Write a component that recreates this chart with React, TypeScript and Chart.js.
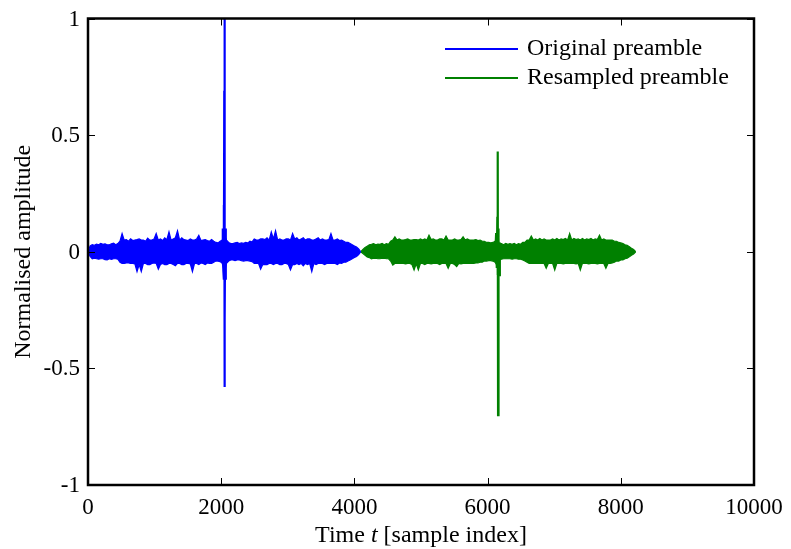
import React, { useEffect, useRef } from "react";
import { Chart, registerables } from "chart.js";

Chart.register(...registerables);

// ---------- data ----------
const SERIES_NAMES = ["Original preamble", "Resampled preamble"];
const SERIES_COLORS = ["#0000ff", "#008000"];

const X_MIN = 0;
const X_MAX = 10000;
const Y_MIN = -1;
const Y_MAX = 1;
const X_TICKS = [0, 2000, 4000, 6000, 8000, 10000];
const X_TICK_LABELS = ["0", "2000", "4000", "6000", "8000", "10000"];
const Y_TICKS = [-1, -0.5, 0, 0.5, 1];
const Y_TICK_LABELS = ["-1", "-0.5", "0", "0.5", "1"];

// Original preamble: envelope of the dense signal, samples 0..4096 every 32 samples
const BLUE_START = 0;
const BLUE_STEP = 32;
const BLUE_UPPER = [
  0, 0.025, 0.03, 0.028, 0.033, 0.03, 0.036, 0.032, 0.034, 0.03,
  0.03, 0.034, 0.037, 0.03, 0.035, 0.045, 0.078, 0.05, 0.052, 0.045,
  0.055, 0.048, 0.05, 0.052, 0.055, 0.05, 0.05, 0.045, 0.058, 0.05,
  0.05, 0.055, 0.078, 0.05, 0.055, 0.048, 0.06, 0.052, 0.085, 0.05,
  0.055, 0.06, 0.09, 0.05, 0.06, 0.052, 0.05, 0.048, 0.055, 0.05,
  0.05, 0.055, 0.07, 0.048, 0.05, 0.052, 0.048, 0.045, 0.052, 0.045,
  0.04, 0.038, 0.045, 0.05, 0.07, 0.05, 0.04, 0.035, 0.035, 0.038,
  0.04, 0.035, 0.038, 0.036, 0.04, 0.038, 0.045, 0.042, 0.055, 0.05,
  0.05, 0.055, 0.055, 0.052, 0.06, 0.05, 0.085, 0.055, 0.09, 0.05,
  0.055, 0.05, 0.05, 0.055, 0.055, 0.05, 0.078, 0.055, 0.06, 0.05,
  0.055, 0.06, 0.05, 0.055, 0.055, 0.05, 0.05, 0.055, 0.06, 0.05,
  0.055, 0.05, 0.05, 0.052, 0.078, 0.05, 0.05, 0.055, 0.048, 0.05,
  0.045, 0.04, 0.04, 0.035, 0.03, 0.025, 0.02, 0.012, 0,
];
const BLUE_LOWER = [
  0, -0.02, -0.03, -0.028, -0.03, -0.032, -0.03, -0.03, -0.034, -0.035,
  -0.03, -0.033, -0.03, -0.03, -0.032, -0.045, -0.05, -0.05, -0.048, -0.048,
  -0.05, -0.05, -0.052, -0.085, -0.055, -0.085, -0.05, -0.05, -0.055, -0.055,
  -0.05, -0.048, -0.05, -0.075, -0.055, -0.05, -0.055, -0.055, -0.05, -0.05,
  -0.055, -0.06, -0.05, -0.05, -0.055, -0.055, -0.05, -0.05, -0.052, -0.085,
  -0.05, -0.05, -0.055, -0.048, -0.05, -0.055, -0.048, -0.05, -0.05, -0.045,
  -0.04, -0.04, -0.042, -0.05, -0.09, -0.05, -0.04, -0.035, -0.035, -0.038,
  -0.035, -0.035, -0.038, -0.04, -0.038, -0.038, -0.04, -0.042, -0.05, -0.05,
  -0.05, -0.075, -0.055, -0.055, -0.055, -0.05, -0.05, -0.055, -0.05, -0.05,
  -0.055, -0.055, -0.05, -0.05, -0.055, -0.078, -0.055, -0.055, -0.05, -0.055,
  -0.05, -0.06, -0.05, -0.055, -0.05, -0.085, -0.05, -0.055, -0.05, -0.05,
  -0.05, -0.055, -0.05, -0.05, -0.05, -0.05, -0.05, -0.055, -0.048, -0.05,
  -0.045, -0.045, -0.04, -0.035, -0.03, -0.025, -0.02, -0.012, 0,
];
// main peak of the original preamble (fine detail)
const BLUE_PEAK_X = [2016, 2024, 2032, 2038, 2042, 2046, 2048, 2050, 2053, 2056, 2060, 2066, 2072, 2080];
const BLUE_PEAK_Y = [-0.04, 0.1, -0.08, 0.2, -0.12, 0.69, 1.0, -0.58, 0.15, -0.29, 0.1, -0.12, 0.06, -0.04];

// Resampled preamble: envelope, samples 4096..8224 every 32 samples
const GREEN_START = 4096;
const GREEN_STEP = 32;
const GREEN_UPPER = [
  0, 0.01, 0.018, 0.024, 0.03, 0.032, 0.035, 0.03, 0.033, 0.032,
  0.036, 0.03, 0.035, 0.032, 0.045, 0.05, 0.064, 0.05, 0.055, 0.05,
  0.05, 0.052, 0.055, 0.05, 0.05, 0.052, 0.052, 0.05, 0.055, 0.05,
  0.055, 0.05, 0.071, 0.052, 0.055, 0.05, 0.05, 0.055, 0.055, 0.05,
  0.067, 0.05, 0.05, 0.05, 0.055, 0.05, 0.05, 0.052, 0.064, 0.05,
  0.055, 0.05, 0.05, 0.05, 0.052, 0.048, 0.05, 0.045, 0.045, 0.04,
  0.04, 0.038, 0.04, 0.045, 0.06, 0.035, 0.035, 0.03, 0.036, 0.032,
  0.035, 0.032, 0.036, 0.03, 0.035, 0.032, 0.04, 0.04, 0.05, 0.05,
  0.067, 0.05, 0.055, 0.05, 0.057, 0.05, 0.055, 0.05, 0.05, 0.05,
  0.055, 0.05, 0.057, 0.05, 0.055, 0.052, 0.057, 0.05, 0.078, 0.05,
  0.057, 0.052, 0.055, 0.05, 0.057, 0.05, 0.055, 0.052, 0.057, 0.05,
  0.055, 0.052, 0.071, 0.05, 0.055, 0.05, 0.05, 0.05, 0.05, 0.045,
  0.045, 0.04, 0.038, 0.035, 0.03, 0.028, 0.022, 0.015, 0.01, 0,
];
const GREEN_LOWER = [
  0, -0.008, -0.015, -0.022, -0.025, -0.03, -0.028, -0.028, -0.03, -0.03,
  -0.028, -0.028, -0.03, -0.03, -0.04, -0.057, -0.05, -0.05, -0.05, -0.05,
  -0.05, -0.052, -0.05, -0.05, -0.055, -0.078, -0.052, -0.078, -0.05, -0.05,
  -0.055, -0.05, -0.05, -0.052, -0.05, -0.05, -0.05, -0.055, -0.05, -0.05,
  -0.05, -0.071, -0.05, -0.05, -0.055, -0.064, -0.05, -0.052, -0.05, -0.05,
  -0.05, -0.05, -0.05, -0.05, -0.048, -0.048, -0.045, -0.045, -0.04, -0.04,
  -0.038, -0.038, -0.04, -0.045, -0.06, -0.035, -0.032, -0.03, -0.03, -0.03,
  -0.03, -0.032, -0.03, -0.03, -0.032, -0.032, -0.035, -0.04, -0.045, -0.05,
  -0.05, -0.05, -0.05, -0.05, -0.05, -0.05, -0.05, -0.071, -0.05, -0.05,
  -0.05, -0.078, -0.05, -0.05, -0.05, -0.052, -0.05, -0.05, -0.05, -0.05,
  -0.05, -0.052, -0.05, -0.078, -0.05, -0.05, -0.05, -0.052, -0.05, -0.05,
  -0.05, -0.052, -0.05, -0.05, -0.05, -0.071, -0.05, -0.05, -0.048, -0.045,
  -0.04, -0.04, -0.035, -0.035, -0.03, -0.028, -0.022, -0.015, -0.01, 0,
];
// main peak of the resampled preamble (fine detail)
const GREEN_PEAK_X = [6112, 6128, 6138, 6146, 6150, 6154, 6157, 6160, 6164, 6168, 6172, 6184];
const GREEN_PEAK_Y = [-0.04, 0.08, -0.07, 0.15, -0.1, 0.43, -0.7, 0.1, -0.28, 0.06, -0.1, 0.04];

// ---------- helpers ----------
function envelope(start: number, step: number, ys: number[]) {
  return ys.map((y, i) => ({ x: start + i * step, y }));
}
function pairs(xs: number[], ys: number[]) {
  return xs.map((x, i) => ({ x, y: ys[i] }));
}

const FONT_FAMILY = '"Liberation Serif", "Times New Roman", serif';
const TICK_FONT = 23;
const TEXT_FONT = 24;

const framePlugin = {
  id: "matlabFrame",
  afterDatasetsDraw(chart: any) {
    const ctx = chart.ctx as CanvasRenderingContext2D;
    const { left, right, top, bottom } = chart.chartArea;
    const xs = chart.scales.x;
    const ys = chart.scales.y;
    ctx.save();
    ctx.strokeStyle = "#000";
    ctx.lineWidth = 1;
    const tl = 7;
    X_TICKS.forEach((v) => {
      const p = Math.round(xs.getPixelForValue(v)) + 0.5;
      ctx.beginPath();
      ctx.moveTo(p, bottom);
      ctx.lineTo(p, bottom - tl);
      ctx.moveTo(p, top);
      ctx.lineTo(p, top + tl);
      ctx.stroke();
    });
    Y_TICKS.forEach((v) => {
      const p = Math.round(ys.getPixelForValue(v)) + 0.5;
      ctx.beginPath();
      ctx.moveTo(left, p);
      ctx.lineTo(left + tl, p);
      ctx.moveTo(right, p);
      ctx.lineTo(right - tl, p);
      ctx.stroke();
    });
    ctx.lineWidth = 2.5;
    ctx.strokeRect(left, top, right - left, bottom - top);

    ctx.fillStyle = "#000";
    ctx.font = `${TICK_FONT}px ${FONT_FAMILY}`;
    ctx.textAlign = "center";
    ctx.textBaseline = "middle";
    X_TICKS.forEach((v, i) => {
      ctx.fillText(X_TICK_LABELS[i], xs.getPixelForValue(v), bottom + 23);
    });
    ctx.textAlign = "right";
    Y_TICKS.forEach((v, i) => {
      ctx.fillText(Y_TICK_LABELS[i], left - 8, ys.getPixelForValue(v) + 1);
    });

    const parts = [
      { t: "Time ", f: `${TEXT_FONT}px ${FONT_FAMILY}` },
      { t: "t", f: `italic ${TEXT_FONT}px ${FONT_FAMILY}` },
      { t: " [sample index]", f: `${TEXT_FONT}px ${FONT_FAMILY}` },
    ];
    let total = 0;
    parts.forEach((p) => {
      ctx.font = p.f;
      total += ctx.measureText(p.t).width;
    });
    let x0 = (left + right) / 2 - total / 2;
    ctx.textAlign = "left";
    parts.forEach((p) => {
      ctx.font = p.f;
      ctx.fillText(p.t, x0, 536);
      x0 += ctx.measureText(p.t).width;
    });

    ctx.font = `${TEXT_FONT}px ${FONT_FAMILY}`;
    ctx.translate(24, (top + bottom) / 2);
    ctx.rotate(-Math.PI / 2);
    ctx.textAlign = "center";
    ctx.fillText("Normalised amplitude", 0, 0);
    ctx.restore();

    // legend
    ctx.save();
    ctx.font = `${TEXT_FONT}px ${FONT_FAMILY}`;
    ctx.textBaseline = "middle";
    ctx.textAlign = "left";
    const legY = [49, 78];
    SERIES_NAMES.forEach((name, i) => {
      ctx.strokeStyle = SERIES_COLORS[i];
      ctx.lineWidth = 2;
      ctx.beginPath();
      ctx.moveTo(445, legY[i]);
      ctx.lineTo(518, legY[i]);
      ctx.stroke();
      ctx.fillStyle = "#000";
      ctx.fillText(name, 527, legY[i]);
    });
    ctx.restore();
  },
};

function bandUpper(data: any, color: string) {
  return { data, borderColor: color, backgroundColor: color, borderWidth: 1.2, pointRadius: 0, tension: 0, fill: "+1" };
}
function bandLower(data: any, color: string) {
  return { data, borderColor: color, backgroundColor: color, borderWidth: 1.2, pointRadius: 0, tension: 0, fill: false };
}
function peakLine(data: any, color: string) {
  return { data, borderColor: color, borderWidth: 2.2, pointRadius: 0, tension: 0, fill: false };
}

export default function App() {
  const ref = useRef<HTMLCanvasElement | null>(null);
  useEffect(() => {
    if (!ref.current) return;
    const chart = new Chart(ref.current, {
      type: "line",
      data: {
        datasets: [
          bandUpper(envelope(BLUE_START, BLUE_STEP, BLUE_UPPER), SERIES_COLORS[0]),
          bandLower(envelope(BLUE_START, BLUE_STEP, BLUE_LOWER), SERIES_COLORS[0]),
          peakLine(pairs(BLUE_PEAK_X, BLUE_PEAK_Y), SERIES_COLORS[0]),
          bandUpper(envelope(GREEN_START, GREEN_STEP, GREEN_UPPER), SERIES_COLORS[1]),
          bandLower(envelope(GREEN_START, GREEN_STEP, GREEN_LOWER), SERIES_COLORS[1]),
          peakLine(pairs(GREEN_PEAK_X, GREEN_PEAK_Y), SERIES_COLORS[1]),
        ] as any,
      },
      options: {
        responsive: false,
        animation: false,
        parsing: false as any,
        layout: { padding: { left: 88, right: 37, top: 18.5, bottom: 64 } },
        scales: {
          x: { type: "linear", min: X_MIN, max: X_MAX, display: false },
          y: { type: "linear", min: Y_MIN, max: Y_MAX, display: false },
        },
        plugins: {
          legend: { display: false },
          tooltip: { enabled: false },
          title: { display: false },
          filler: { propagate: false },
        },
      },
      plugins: [framePlugin],
    });
    return () => chart.destroy();
  }, []);
  return (
    <div style={{ position: "fixed", left: 0, top: 0, width: 791, height: 549, background: "#fff" }}>
      <canvas ref={ref} width={791} height={549} style={{ width: 791, height: 549 }} />
    </div>
  );
}
